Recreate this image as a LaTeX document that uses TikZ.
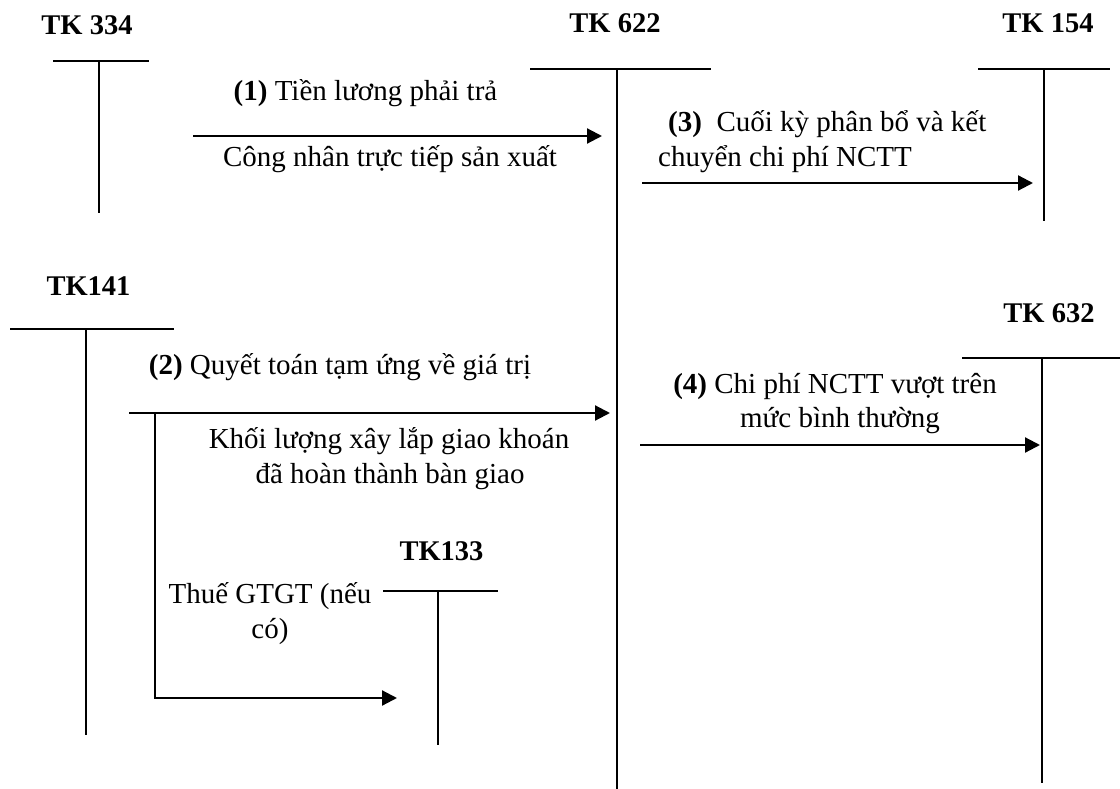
\documentclass[tikz,border=0pt]{standalone}
\usepackage{fontspec}
\setmainfont{Liberation Serif}
\usetikzlibrary{arrows.meta}
\tikzset{
  txt/.style={inner sep=0pt, anchor=base, font=\fontsize{29}{34.5}\selectfont},
  txtw/.style={txt, anchor=base west},
  acc/.style={inner sep=0pt, anchor=base, font=\fontsize{28.5}{34}\selectfont\bfseries},
  tline/.style={line width=1.5pt},
  flow/.style={line width=2.2pt, -{Triangle[length=15pt,width=15pt]}}
}
\begin{document}
\begin{tikzpicture}[x=1pt,y=-1pt]
\useasboundingbox (0,0) rectangle (1120,789);
% account labels
\node[acc] (l334) at (87,35) {TK 334};
\node[acc] (l622) at (615,33) {TK 622};
\node[acc] (l154) at (1048,33) {TK 154};
\node[acc] (l141) at (88.5,295) {TK141};
\node[acc] (l632) at (1049,322) {TK 632};
\node[acc] (l133) at (441.5,560) {TK133};
% T-account coordinates
\coordinate (h334a) at (53,61);  \coordinate (h334b) at (149,61);
\coordinate (v334a) at (99,61);  \coordinate (v334b) at (99,213);
\coordinate (h622a) at (530,69); \coordinate (h622b) at (711,69);
\coordinate (v622a) at (617,69); \coordinate (v622b) at (617,789);
\coordinate (h154a) at (978,69); \coordinate (h154b) at (1110,69);
\coordinate (v154a) at (1044,69); \coordinate (v154b) at (1044,221);
\coordinate (h141a) at (10,329); \coordinate (h141b) at (174,329);
\coordinate (v141a) at (86,329); \coordinate (v141b) at (86,735);
\coordinate (h632a) at (962,358); \coordinate (h632b) at (1120,358);
\coordinate (v632a) at (1042,358); \coordinate (v632b) at (1042,783);
\coordinate (h133a) at (383,591); \coordinate (h133b) at (498,591);
\coordinate (v133a) at (438,591); \coordinate (v133b) at (438,745);
\draw[tline] (h334a) -- (h334b) (v334a) -- (v334b);
\draw[tline] (h622a) -- (h622b) (v622a) -- (v622b);
\draw[tline] (h154a) -- (h154b) (v154a) -- (v154b);
\draw[tline] (h141a) -- (h141b) (v141a) -- (v141b);
\draw[tline] (h632a) -- (h632b) (v632a) -- (v632b);
\draw[tline] (h133a) -- (h133b) (v133a) -- (v133b);
% flow coordinates
\coordinate (f1s) at (193,136); \coordinate (f1e) at (602,136);
\coordinate (f3s) at (642,183); \coordinate (f3e) at (1033,183);
\coordinate (f2s) at (129,413); \coordinate (f2e) at (610,413);
\coordinate (f2b) at (155,413); \coordinate (f2c) at (155,698); \coordinate (f2d) at (397,698);
\coordinate (f4s) at (640,445); \coordinate (f4e) at (1040,445);
\draw[flow] (f1s) -- (f1e);
\draw[flow] (f3s) -- (f3e);
\draw[flow] (f2s) -- (f2e);
\draw[flow] (f2b) -- (f2c) -- (f2d);
\draw[flow] (f4s) -- (f4e);
% labels
\node[txt] (t1a) at (365.5,101) {\textbf{(1)} Tiền lương phải trả};
\node[txt] (t1b) at (390,167) {Công nhân trực tiếp sản xuất};
\node[txtw] (t3a) at (668,132) {\textbf{(3)}\ \ Cuối kỳ phân bổ và kết};
\node[txtw] (t3b) at (658,167) {chuyển chi phí NCTT};
\node[txt] (t2a) at (340,374) {\textbf{(2)} Quyết toán tạm ứng về giá trị};
\node[txt] (t2b) at (389,448) {Khối lượng xây lắp giao khoán};
\node[txt] (t2c) at (390,483) {đã hoàn thành bàn giao};
\node[txt] (t4a) at (835,393) {\textbf{(4)} Chi phí NCTT vượt trên};
\node[txt] (t4b) at (840,427) {mức bình thường};
\node[txt] (t5a) at (270,603) {Thuế GTGT (nếu};
\node[txt] (t5b) at (270,638) {có)};
\end{tikzpicture}
\end{document}
